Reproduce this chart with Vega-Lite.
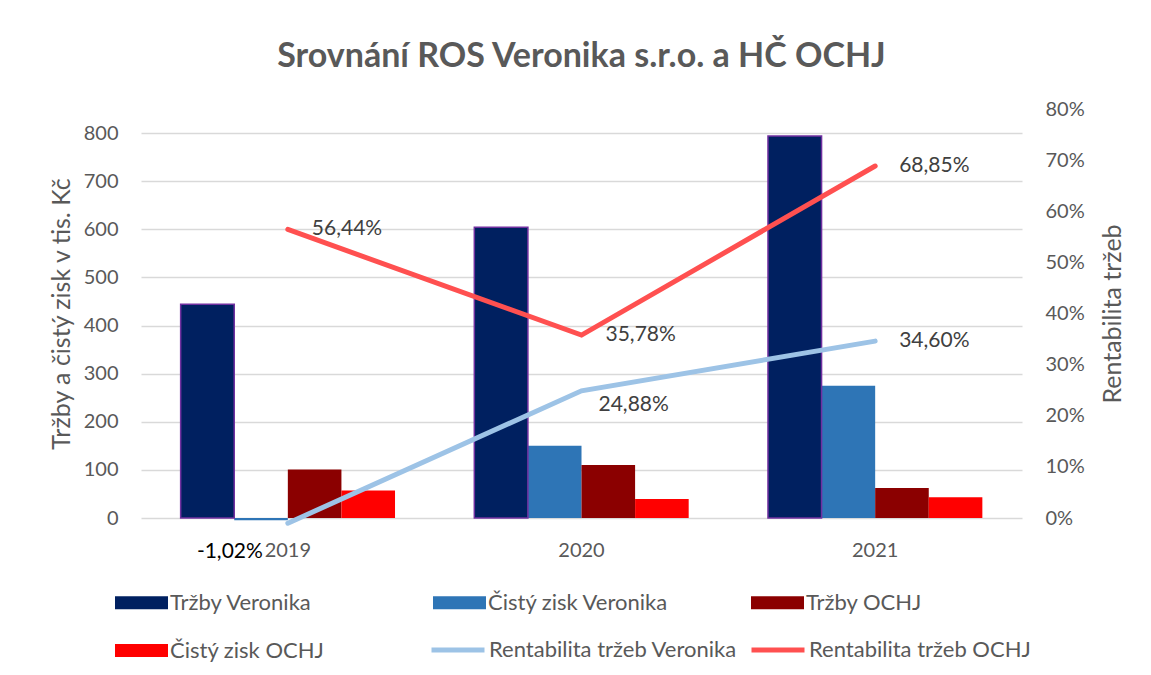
{
  "$schema": "https://vega.github.io/schema/vega-lite/v6.json",
  "width": 881,
  "height": 409,
  "autosize": {"type": "none"},
  "padding": {"left": 141, "top": 109, "right": 129, "bottom": 157},
  "background": "white",
  "title": {
    "text": "Srovnání ROS Veronika s.r.o. a HČ OCHJ",
    "font": "Lato",
    "fontSize": 34,
    "fontWeight": "bold",
    "color": "#595959",
    "anchor": "middle",
    "offset": 25
  },
  "datasets": {
    "bars": [
      {"year": "2019", "series": "Tržby Veronika", "value": 444},
      {"year": "2019", "series": "Čistý zisk Veronika", "value": -4.5},
      {"year": "2019", "series": "Tržby OCHJ", "value": 101},
      {"year": "2019", "series": "Čistý zisk OCHJ", "value": 57},
      {"year": "2020", "series": "Tržby Veronika", "value": 604},
      {"year": "2020", "series": "Čistý zisk Veronika", "value": 150},
      {"year": "2020", "series": "Tržby OCHJ", "value": 110},
      {"year": "2020", "series": "Čistý zisk OCHJ", "value": 39.4},
      {"year": "2021", "series": "Tržby Veronika", "value": 794},
      {"year": "2021", "series": "Čistý zisk Veronika", "value": 275},
      {"year": "2021", "series": "Tržby OCHJ", "value": 62.5},
      {"year": "2021", "series": "Čistý zisk OCHJ", "value": 43}
    ],
    "lines": [
      {"year": "2019", "series": "Rentabilita tržeb Veronika", "pct": -0.0102},
      {"year": "2020", "series": "Rentabilita tržeb Veronika", "pct": 0.2488},
      {"year": "2021", "series": "Rentabilita tržeb Veronika", "pct": 0.346},
      {"year": "2019", "series": "Rentabilita tržeb OCHJ", "pct": 0.5644},
      {"year": "2020", "series": "Rentabilita tržeb OCHJ", "pct": 0.3578},
      {"year": "2021", "series": "Rentabilita tržeb OCHJ", "pct": 0.6885}
    ]
  },
  "encoding": {
    "x": {
      "field": "year",
      "type": "nominal",
      "scale": {"paddingInner": 0.27, "paddingOuter": 0.135},
      "axis": {"title": null, "labelAngle": 0, "labelPadding": 22, "domain": false, "ticks": false, "grid": false}
    }
  },
  "layer": [
    {
      "data": {"name": "bars"},
      "layer": [
        {
          "mark": {"type": "bar"},
          "encoding": {
            "xOffset": {
              "field": "series",
              "type": "nominal",
              "scale": {"domain": ["Tržby Veronika", "Čistý zisk Veronika", "Tržby OCHJ", "Čistý zisk OCHJ"], "paddingInner": 0, "paddingOuter": 0}
            },
            "y": {
              "field": "value",
              "type": "quantitative",
              "scale": {"domain": [0, 850], "nice": false},
              "axis": {
                "title": "Tržby a čistý zisk v tis. Kč",
                "values": [0, 100, 200, 300, 400, 500, 600, 700, 800],
                "grid": true,
                "gridColor": "#d9d9d9",
                "gridWidth": 1.5,
                "labelPadding": 23,
                "titlePadding": 9
              }
            },
            "color": {
              "field": "series",
              "type": "nominal",
              "scale": {
                "domain": ["Tržby Veronika", "Čistý zisk Veronika", "Tržby OCHJ", "Čistý zisk OCHJ"],
                "range": ["#002060", "#2E75B6", "#8B0000", "#FF0000"]
              },
              "legend": {
                "title": null,
                "orient": "none",
                "direction": "horizontal",
                "legendX": -26,
                "legendY": 467,
                "columns": 3,
                "gridAlign": "all",
                "columnPadding": 82,
                "rowPadding": 10,
                "padding": 0,
                "symbolType": "M-1,-0.245H1V0.245H-1Z",
                "symbolSize": 2809,
                "symbolStrokeWidth": 0,
                "labelFont": "Lato",
                "labelFontSize": 22,
                "labelColor": "#595959",
                "labelLimit": 400,
                "labelOffset": 2
              }
            }
          }
        },
        {
          "transform": [{"filter": "datum.series === 'Tržby Veronika'"}],
          "mark": {"type": "bar", "filled": false, "stroke": "#7030A0", "strokeWidth": 1.5},
          "encoding": {
            "xOffset": {"field": "series", "type": "nominal"},
            "y": {"field": "value", "type": "quantitative"}
          }
        }
      ]
    },
    {
      "data": {"name": "lines"},
      "encoding": {
        "y": {
          "field": "pct",
          "type": "quantitative",
          "scale": {"domain": [0, 0.8], "nice": false},
          "axis": {
            "orient": "right",
            "title": "Rentabilita tržeb",
            "format": ".0%",
            "values": [0, 0.1, 0.2, 0.3, 0.4, 0.5, 0.6, 0.7, 0.8],
            "grid": false,
            "labelPadding": 23,
            "titlePadding": 41,
            "titleAngle": 270
          }
        }
      },
      "layer": [
        {
          "mark": {"type": "line", "strokeWidth": 5, "strokeCap": "round"},
          "encoding": {
            "color": {
              "field": "series",
              "type": "nominal",
              "scale": {"domain": ["Rentabilita tržeb Veronika", "Rentabilita tržeb OCHJ"], "range": ["#9DC3E6", "#FF5050"]},
              "legend": {
                "title": null,
                "orient": "none",
                "direction": "horizontal",
                "legendX": 288,
                "legendY": 512,
                "columns": 2,
                "gridAlign": "all",
                "columnPadding": 4,
                "padding": 0,
                "symbolType": "stroke",
                "symbolSize": 2809,
                "symbolStrokeWidth": 5,
                "labelFont": "Lato",
                "labelFontSize": 22,
                "labelColor": "#595959",
                "labelLimit": 400,
                "labelOffset": 2
              }
            }
          }
        },
        {
          "transform": [{"filter": "!(datum.series === 'Rentabilita tržeb Veronika' && (datum.year === '2019' || datum.year === '2020'))"}],
          "mark": {"type": "text", "align": "left", "baseline": "middle", "dx": 24, "dy": 0, "font": "Lato", "fontSize": 21, "color": "#404040"},
          "encoding": {"text": {"field": "pct", "type": "quantitative", "format": ".2%"}}
        },
        {
          "transform": [{"filter": "datum.series === 'Rentabilita tržeb Veronika' && datum.year === '2020'"}],
          "mark": {"type": "text", "align": "left", "baseline": "middle", "dx": 17, "dy": 14, "font": "Lato", "fontSize": 21, "color": "#404040"},
          "encoding": {"text": {"field": "pct", "type": "quantitative", "format": ".2%"}}
        },
        {
          "transform": [{"filter": "datum.series === 'Rentabilita tržeb Veronika' && datum.year === '2019'"}],
          "mark": {"type": "text", "align": "right", "baseline": "middle", "dx": -25, "dy": 29, "font": "Lato", "fontSize": 21, "color": "#000000"},
          "encoding": {"text": {"field": "pct", "type": "quantitative", "format": ".2%"}}
        }
      ]
    }
  ],
  "resolve": {"scale": {"y": "independent", "color": "independent"}},
  "config": {
    "font": "Lato",
    "view": {"stroke": null},
    "locale": {
      "number": {"decimal": ",", "thousands": " ", "grouping": [3], "currency": ["", " Kč"], "percent": "%", "minus": "-"}
    },
    "axis": {
      "labelFont": "Lato",
      "titleFont": "Lato",
      "labelColor": "#595959",
      "titleColor": "#595959",
      "labelFontSize": 20,
      "titleFontSize": 25,
      "titleFontWeight": "normal",
      "domain": false,
      "ticks": false
    }
  }
}
